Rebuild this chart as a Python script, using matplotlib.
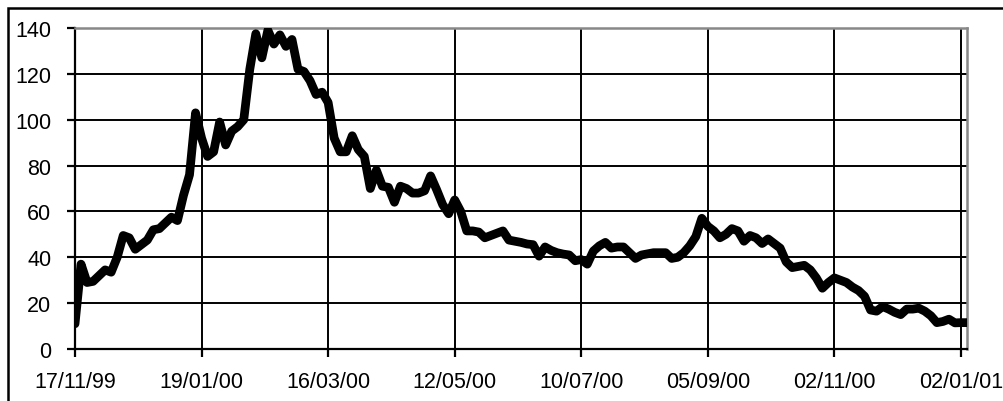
import numpy as np
import matplotlib
matplotlib.use("Agg")
import matplotlib.pyplot as plt
from matplotlib.patches import Rectangle

plt.rcParams['font.family'] = ['Liberation Sans', 'DejaVu Sans']

# one reading every 21/41 of a labelled interval (trading-day category axis)
prices = [11, 37, 29, 29.5, 32, 34.5, 33.5, 40, 49.5, 48.5,
          43.5, 45.5, 47.5, 52, 52.5, 55, 57.5, 56, 67, 76,
          103, 92, 84, 86, 99, 89, 95, 97, 100, 122,
          137.5, 127, 139, 133, 137, 132, 135, 122, 121, 117,
          111, 112, 107.5, 92, 86, 86, 93, 87, 84, 70,
          78, 71, 70.5, 64, 71, 70, 68, 68, 69, 75.5,
          69.5, 63, 59, 65, 60, 51.5, 51.5, 51, 48.5, 49.5,
          50.5, 51.5, 47.5, 47, 46.5, 45.8, 45.5, 40.5, 44.5, 43,
          42, 41.4, 41, 38.5, 39, 37, 42.7, 45, 46.5, 44,
          44.5, 44.5, 42, 39.5, 41, 41.5, 42, 42, 42, 39.5,
          40, 42, 45, 49, 57, 53.5, 51.5, 48.5, 50, 52.5,
          51.5, 47, 49.5, 48.5, 46, 48, 46, 44, 38, 35.5,
          36, 36.5, 34.5, 31, 26.5, 29, 31, 30, 29, 27,
          25.5, 23, 17, 16.5, 18.5, 17.4, 16, 15, 17.4, 17.4,
          17.8, 16.5, 14.5, 11.5, 12, 13, 11.4, 11.5, 11.5]

date_labels = ["17/11/99", "19/01/00", "16/03/00", "12/05/00",
               "10/07/00", "05/09/00", "02/11/00", "02/01/01"]
label_step = 21
y_ticks = [0, 20, 40, 60, 80, 100, 120, 140]

x = np.arange(len(prices))
tick_pos = np.arange(len(date_labels)) * label_step

fig = plt.figure(figsize=(10.04, 4.02), dpi=100)
ax = fig.add_axes([75 / 1004, 52 / 402, 892 / 1004, 321 / 402])

ax.plot(x, prices, color="black", linewidth=6.3,
        solid_joinstyle="round", solid_capstyle="round", zorder=3)

ax.set_xlim(0, len(prices) - 1)
ax.set_ylim(0, 140)
ax.set_xticks(tick_pos)
ax.set_xticklabels(date_labels)
ax.set_yticks(y_ticks)
ax.grid(True, color="black", linewidth=1.4)
ax.set_axisbelow(True)

for side in ["left", "bottom"]:
    ax.spines[side].set_color("black")
    ax.spines[side].set_linewidth(1.6)
for side in ["top", "right"]:
    ax.spines[side].set_color("#888888")
    ax.spines[side].set_linewidth(1.8)

ax.tick_params(axis="both", direction="out", length=6, width=1.6,
               colors="black", labelsize=15.5)
ax.tick_params(axis="y", pad=11)
ax.tick_params(axis="x", pad=10)

# outer chart frame (only left and top are inside the picture)
fig.patches.append(Rectangle((8 / 1004, -0.1), 1.2, 393 / 402 + 0.1,
                             transform=fig.transFigure, fill=False,
                             edgecolor="black", linewidth=1.8))

fig.savefig("out.png", dpi=100)
